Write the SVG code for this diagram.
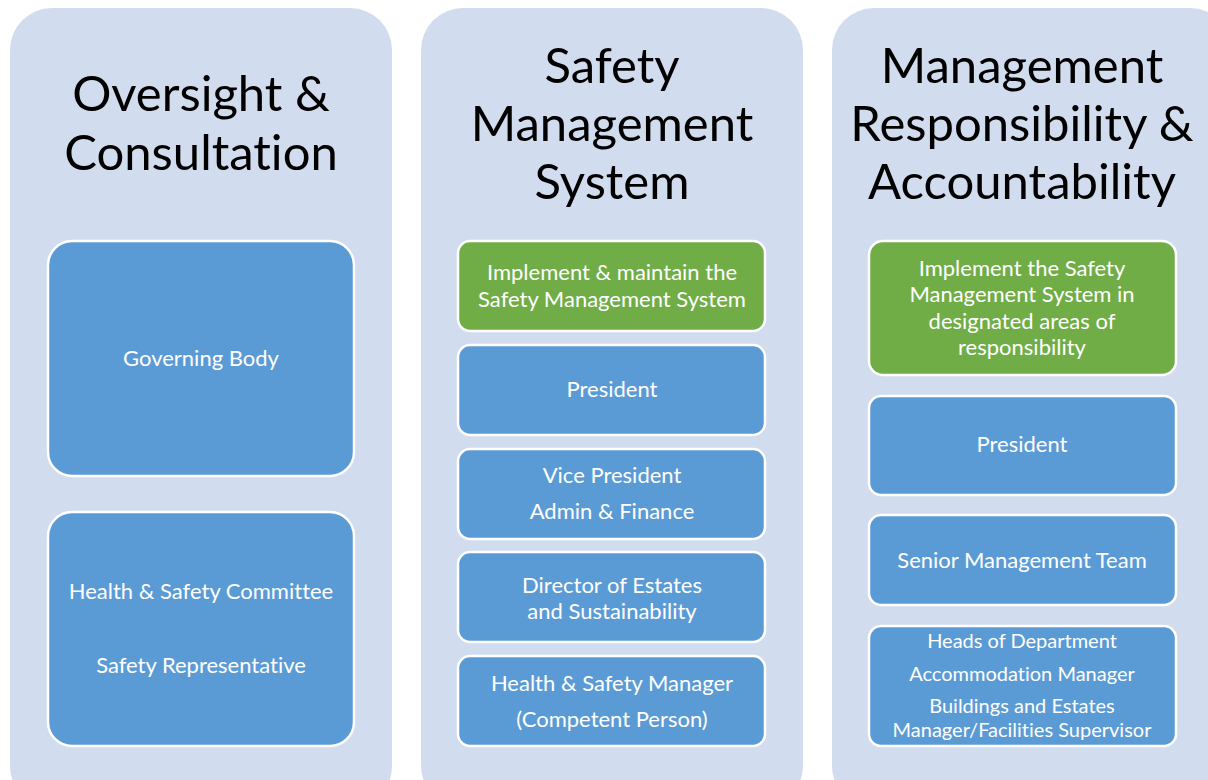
<svg xmlns="http://www.w3.org/2000/svg" width="1208" height="780" viewBox="0 0 1208 780">
<style>
text{font-variant-ligatures:none;font-family:Lato,"Liberation Sans",sans-serif;text-anchor:middle;}
.col{fill:#D1DCEE;}
.box{fill:#5B9BD5;stroke:#FFFFFF;stroke-width:2.5;}
.green{fill:#70AD47;stroke:#FFFFFF;stroke-width:2.5;}
.title{font-size:49px;fill:#000000;}
.t{font-size:22px;fill:#FFFFFF;}
.ts{font-size:20px;fill:#FFFFFF;}
</style>
<rect width="1208" height="780" fill="#FFFFFF"/>
<g id="col1">
<rect class="col" x="10" y="8" width="382" height="800" rx="42"/>
<text class="title" x="201" y="111">Oversight &amp;</text>
<text class="title" x="201" y="170">Consultation</text>
</g>
<g id="col2">
<rect class="col" x="421" y="8" width="382" height="800" rx="42"/>
<text class="title" x="612" y="83">Safety</text>
<text class="title" x="612" y="141">Management</text>
<text class="title" x="612" y="199">System</text>
</g>
<g id="col3">
<rect class="col" x="832" y="8" width="400" height="800" rx="42"/>
<text class="title" x="1022" y="83">Management</text>
<text class="title" x="1022" y="141">Responsibility &amp;</text>
<text class="title" x="1022" y="199">Accountability</text>
</g>
<g id="governing-body">
<rect class="box" x="48" y="241" width="306" height="235" rx="24"/>
<text class="t" x="201" y="366">Governing Body</text>
</g>
<g id="hs-committee">
<rect class="box" x="48" y="512" width="306" height="234" rx="24"/>
<text class="t" x="201" y="599">Health &amp; Safety Committee</text>
<text class="t" x="201" y="673">Safety Representative</text>
</g>
<g id="implement-maintain">
<rect class="green" x="458" y="241" width="307" height="90" rx="12"/>
<text class="t" x="612" y="280">Implement &amp; maintain the</text>
<text class="t" x="612" y="307">Safety Management System</text>
</g>
<g id="president-2">
<rect class="box" x="458" y="345" width="307" height="90" rx="12"/>
<text class="t" x="612" y="397">President</text>
</g>
<g id="vice-president">
<rect class="box" x="458" y="449" width="307" height="90" rx="12"/>
<text class="t" x="612" y="483">Vice President</text>
<text class="t" x="612" y="519">Admin &amp; Finance</text>
</g>
<g id="director-estates">
<rect class="box" x="458" y="552" width="307" height="90" rx="12"/>
<text class="t" x="612" y="593">Director of Estates</text>
<text class="t" x="612" y="619">and Sustainability</text>
</g>
<g id="hs-manager">
<rect class="box" x="458" y="656" width="307" height="90" rx="12"/>
<text class="t" x="612" y="691">Health &amp; Safety Manager</text>
<text class="t" x="612" y="727">(Competent Person)</text>
</g>
<g id="implement-designated">
<rect class="green" x="869" y="241" width="307" height="134" rx="14"/>
<text class="t" x="1022" y="276">Implement the Safety</text>
<text class="t" x="1022" y="302">Management System in</text>
<text class="t" x="1022" y="329">designated areas of</text>
<text class="t" x="1022" y="355">responsibility</text>
</g>
<g id="president-3">
<rect class="box" x="869" y="396" width="307" height="99" rx="12"/>
<text class="t" x="1022" y="452">President</text>
</g>
<g id="senior-management">
<rect class="box" x="869" y="515" width="307" height="90" rx="12"/>
<text class="t" x="1022" y="568">Senior Management Team</text>
</g>
<g id="heads-department">
<rect class="box" x="869" y="626" width="307" height="120" rx="12"/>
<text class="ts" x="1022" y="648">Heads of Department</text>
<text class="ts" x="1022" y="681">Accommodation Manager</text>
<text class="ts" x="1022" y="713">Buildings and Estates</text>
<text class="ts" x="1022" y="737">Manager/Facilities Supervisor</text>
</g>
<g id="connectors"></g>
</svg>
